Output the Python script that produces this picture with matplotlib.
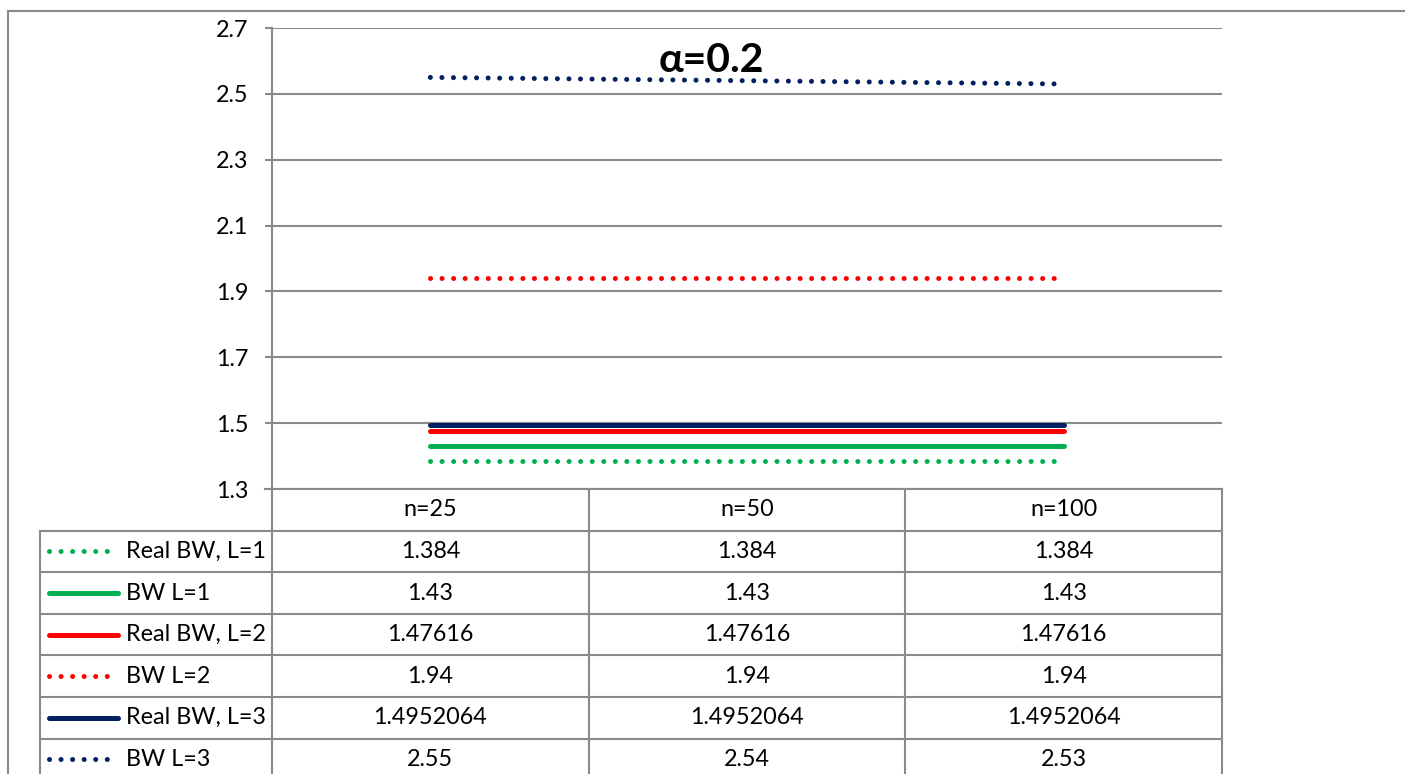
import matplotlib
matplotlib.use("Agg")
import matplotlib.pyplot as plt

plt.rcParams["font.family"] = ["Lato", "DejaVu Sans"]

# ---- data ----
categories = ["n=25", "n=50", "n=100"]
series_names = ["Real BW, L=1", "BW L=1", "Real BW, L=2", "BW L=2", "Real BW, L=3", "BW L=3"]
real_bw_l1 = [1.384, 1.384, 1.384]
bw_l1 = [1.43, 1.43, 1.43]
real_bw_l2 = [1.47616, 1.47616, 1.47616]
bw_l2 = [1.94, 1.94, 1.94]
real_bw_l3 = [1.4952064, 1.4952064, 1.4952064]
bw_l3 = [2.55, 2.54, 2.53]
series_values = [real_bw_l1, bw_l1, real_bw_l2, bw_l2, real_bw_l3, bw_l3]
yticks = [1.3, 1.5, 1.7, 1.9, 2.1, 2.3, 2.5, 2.7]

# ---- styles ----
GREEN, RED, NAVY = "#00B050", "#FF0000", "#002060"
GRAY = "#8a8a8a"
DOTS = (0, (0.01, 2.3))
FS = 16.8
styles = [
    (GREEN, DOTS), (GREEN, "-"),
    (RED, "-"), (RED, DOTS),
    (NAVY, "-"), (NAVY, DOTS),
]

W, H = 1405, 774
PL, PR, PT, PB = 272, 1222, 28, 489      # plot area in pixels
ROW_H = 41.6
TAB_LEFT = 40

fig = plt.figure(figsize=(W / 100, H / 100), dpi=100)

# overlay in pixel units for the frame, data table and title
ov = fig.add_axes([0, 0, 1, 1])
ov.set_xlim(0, W)
ov.set_ylim(H, 0)
ov.axis("off")

ax = fig.add_axes([PL / W, 1 - PB / H, (PR - PL) / W, (PB - PT) / H])
x = list(range(len(categories)))
for vals, (color, ls) in zip(series_values, styles):
    ax.plot(x, vals, color=color, linestyle=ls, lw=3.6,
            solid_capstyle="round", dash_capstyle="round", zorder=3)

ax.set_xlim(-0.5, len(categories) - 0.5)
ax.set_ylim(yticks[0], yticks[-1])
ax.set_yticks(yticks)
ax.set_yticklabels([f"{v:.1f}" for v in yticks])
ax.set_xticks([])
ax.yaxis.grid(True, color=GRAY, lw=1.5)
ax.set_axisbelow(True)
for side in ["top", "right", "bottom"]:
    ax.spines[side].set_visible(False)
ax.spines["left"].set_color(GRAY)
ax.spines["left"].set_linewidth(1.5)
ax.tick_params(axis="y", length=5, width=1.5, color=GRAY, labelsize=FS, pad=12)
ax.patch.set_alpha(0)

# outer chart frame
ov.plot([8, W], [11, 11], color=GRAY, lw=1.5)
ov.plot([8, 8], [11, H], color=GRAY, lw=1.5)

# title
ov.text(711, 61, "α=0.2", ha="center", va="center", fontsize=29.5, fontweight="bold")

# data table
col_w = (PR - PL) / len(categories)
n_rows = len(series_names)
bottom = PB + ROW_H * (n_rows + 1)
for i in range(len(categories) + 1):
    xe = PL + i * col_w
    ov.plot([xe, xe], [PB, bottom], color=GRAY, lw=1.5)
ov.plot([TAB_LEFT, TAB_LEFT], [PB + ROW_H, bottom], color=GRAY, lw=1.5)
ov.plot([PL - 7, PR], [PB, PB], color=GRAY, lw=1.5)
for r in range(1, n_rows + 1):
    ov.plot([TAB_LEFT, PR], [PB + r * ROW_H] * 2, color=GRAY, lw=1.5)

for j, cat in enumerate(categories):
    ov.text(PL + (j + 0.5) * col_w, PB + ROW_H / 2, cat, ha="center", va="center", fontsize=FS)

for r, (name, vals, (color, ls)) in enumerate(zip(series_names, series_values, styles)):
    yc = PB + (r + 1.5) * ROW_H
    ov.plot([49, 118], [yc, yc], color=color, linestyle=ls, lw=3.6,
            solid_capstyle="round", dash_capstyle="round")
    ov.text(126, yc, name, ha="left", va="center", fontsize=FS)
    for j, v in enumerate(vals):
        ov.text(PL + (j + 0.5) * col_w, yc, f"{v:g}" if v != 1.4952064 else "1.4952064",
                ha="center", va="center", fontsize=FS)

fig.savefig("out.png", dpi=100)
